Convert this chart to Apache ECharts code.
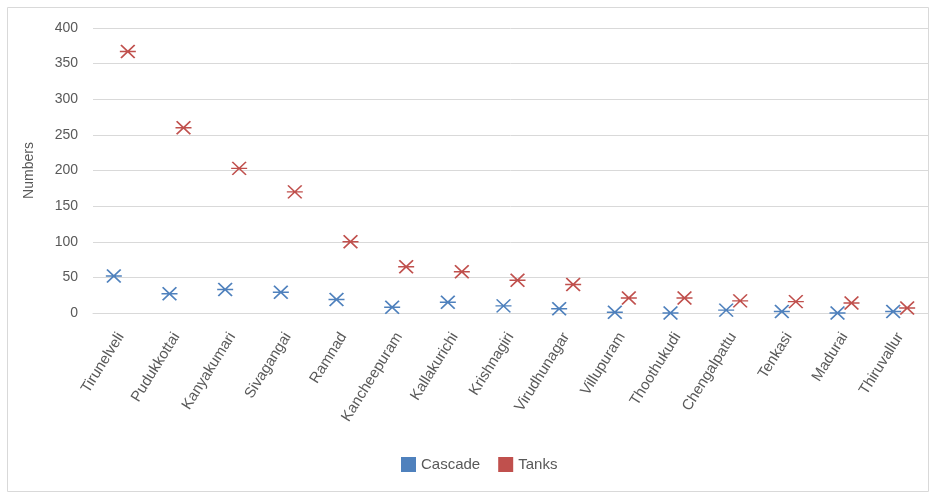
<!DOCTYPE html>
<html>
<head>
<meta charset="utf-8">
<script src="https://cdn.jsdelivr.net/npm/echarts@6/dist/echarts.min.js"></script>
<style>html,body{margin:0;padding:0;background:#fff}#c{width:933px;height:499px}</style>
</head>
<body>
<div id="c"></div>
<script>
var categories = ["Tirunelveli","Pudukkottai","Kanyakumari","Sivagangai","Ramnad","Kancheepuram","Kallakurichi","Krishnagiri","Virudhunagar","Villupuram","Thoothukudi","Chengalpattu","Tenkasi","Madurai","Thiruvallur"];
var cascade = [52, 27, 33, 29, 19, 8, 15, 10, 6, 1, 0, 4, 2, 0, 2];
var tanks = [367, 260, 203, 170, 100, 65, 58, 46, 40, 21, 21, 17, 16, 14, 7];
var yTicks = [0, 50, 100, 150, 200, 250, 300, 350, 400];

var star = 'path://M1,0L13,12M13,0L1,12M0,6L14,6';
var chart = echarts.init(document.getElementById('c'));
var font = 'Liberation Sans, Noto Sans, sans-serif';
chart.setOption({
  animation: false,
  textStyle: {fontFamily: font},
  graphic: [{type:'rect', shape:{x:7.5,y:7.5,width:921,height:484}, style:{fill:'none', stroke:'#d9d9d9', lineWidth:1}, silent:true}],
  grid: {left: 93, right: 5, top: 28, bottom: 186},
  legend: {
    bottom: 22, left: 396, itemWidth: 15, itemHeight: 15, itemGap: 18,
    textStyle: {color: '#595959', fontSize: 15, fontFamily: font},
    data: [{name:'Cascade', icon:'rect', itemStyle:{color:'#4F81BD', borderWidth:0, opacity:1}}, {name:'Tanks', icon:'rect', itemStyle:{color:'#C0504D', borderWidth:0, opacity:1}}]
  },
  xAxis: {
    type: 'category', data: categories,
    axisLine: {lineStyle: {color: '#d9d9d9'}},
    axisTick: {show: false},
    axisLabel: {rotate: 58, interval: 0, color: '#595959', fontSize: 15, fontFamily: font, margin: 21}
  },
  yAxis: {
    type: 'value', min: yTicks[0], max: yTicks[yTicks.length-1], interval: 50,
    name: 'Numbers', nameLocation: 'middle', nameGap: 57, nameRotate: 90,
    nameTextStyle: {color: '#595959', fontSize: 14, fontFamily: font},
    axisLine: {show: false}, axisTick: {show: false},
    axisLabel: {color: '#595959', fontSize: 14, fontFamily: font, margin: 15},
    splitLine: {lineStyle: {color: '#d9d9d9'}}
  },
  series: [
    {name: 'Cascade', type: 'scatter', data: cascade, symbol: star, symbolSize: [16, 13], symbolOffset: [-7, 0],
     itemStyle: {color: 'rgba(0,0,0,0)', borderColor: '#4F81BD', borderWidth: 1.6, opacity: 1}},
    {name: 'Tanks', type: 'scatter', data: tanks, symbol: star, symbolSize: [16, 13], symbolOffset: [7, 0],
     itemStyle: {color: 'rgba(0,0,0,0)', borderColor: '#C0504D', borderWidth: 1.6, opacity: 1}}
  ]
});
</script>
</body>
</html>
